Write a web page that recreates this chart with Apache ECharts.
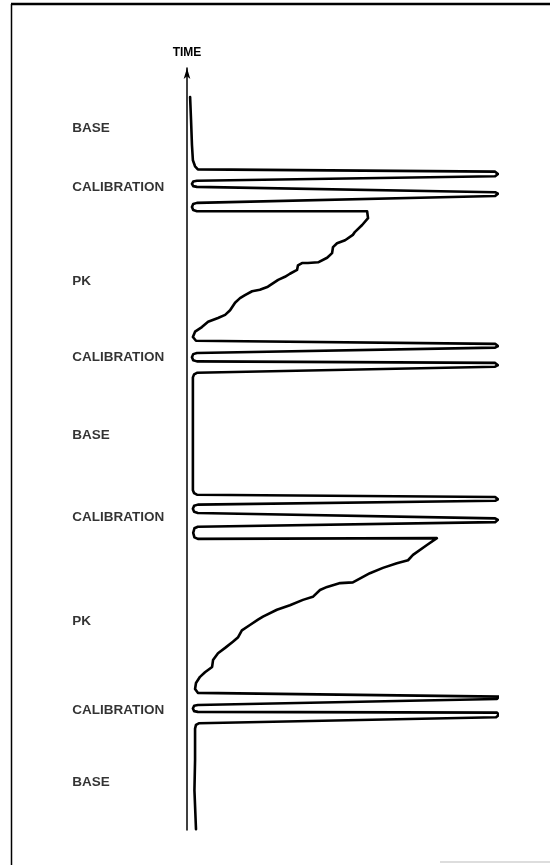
<!DOCTYPE html>
<html>
<head>
<meta charset="utf-8">
<script src="https://cdn.jsdelivr.net/npm/echarts@6/dist/echarts.min.js"></script>
<style>
html,body{margin:0;padding:0;background:#fff;}
#chart{width:550px;height:865px;}
</style>
</head>
<body>
<div id="chart"></div>
<script>
// Recorder trace, earliest first.
// Each point: [time (arbitrary units, bottom = 0), pen deflection (% of calibration full scale)]
const base1 = [[0.1, 2.9], [5.2, 2.4], [9.2, 2.6], [13.3, 2.6], [13.8, 2.9]];
const calibration1 = [
  [14.0, 3.8], [14.8, 99.7], [15.1, 100.6], [15.4, 100], [15.5, 3.5], [15.6, 2.3], [15.95, 1.9],
  [16.3, 2.3], [16.4, 3.5], [17.2, 100], [17.5, 100.6], [17.7, 100], [18.0, 3.5]
];
const pk1 = [
  [18.5, 2.6], [19.3, 2.9], [20.1, 4.2], [20.7, 5.8], [21.4, 8.1], [22.3, 8.4], [23.2, 10.0],
  [23.9, 12.3], [24.7, 14.8], [25.3, 16.5], [26.2, 17.7], [26.9, 20.3], [27.6, 22.9], [28.0, 24.5],
  [28.9, 29.0], [29.5, 33.2], [30.2, 37.4], [30.6, 40.6], [31.5, 42.9], [31.9, 45.2], [32.4, 49.4],
  [32.5, 53.5], [33.7, 59.0], [34.4, 63.2], [35.0, 67.7], [35.4, 71.3], [36.1, 72.9], [37.4, 77.4],
  [38.3, 80.6]
];
const calibration2 = [
  [38.2, 3.5], [38.4, 2.4], [39.0, 2.0], [39.6, 2.4], [39.8, 3.5], [40.4, 99.4], [40.7, 100.3],
  [40.9, 99.4], [41.6, 3.5], [41.75, 2.3], [42.15, 1.9], [42.55, 2.3], [42.7, 3.5], [43.2, 99.4],
  [43.4, 100.3], [43.7, 99.4], [44.0, 3.2], [44.2, 2.3]
];
const base2 = [[44.6, 1.9], [52.5, 1.9], [59.4, 1.9], [59.8, 2.3]];
const calibration3 = [
  [60.0, 3.2], [60.8, 99.4], [61.0, 100.3], [61.3, 99.4], [61.5, 3.2], [61.65, 2.0], [62.05, 1.6],
  [62.45, 2.0], [62.6, 3.2], [63.3, 99.4], [63.5, 100.3], [63.8, 99.4], [64.2, 2.9]
];
const pk2 = [
  [64.7, 1.9], [65.4, 2.6], [66.0, 4.8], [66.7, 6.8], [67.2, 10.0], [67.6, 12.3], [68.2, 13.9],
  [69.2, 15.5], [69.8, 17.1], [70.2, 18.7], [70.7, 21.0], [70.9, 23.5], [71.3, 26.1], [72.2, 29.4],
  [72.6, 31.6], [73.0, 33.2], [73.5, 35.5], [74.1, 35.8], [74.4, 37.1], [74.4, 39.0], [74.5, 42.3],
  [75.1, 45.2], [75.7, 46.8], [76.5, 47.1], [77.0, 48.4], [77.4, 51.0], [78.1, 53.5], [78.5, 54.2],
  [79.4, 56.5], [80.3, 58.4], [81.2, 58.1]
];
const calibration4 = [
  [81.2, 3.2], [81.35, 2.0], [81.75, 1.6], [82.15, 2.0], [82.3, 3.2], [83.2, 99.4], [83.5, 100.3],
  [83.7, 99.4], [84.4, 3.2], [84.5, 2.0], [84.8, 1.6], [85.1, 2.0], [85.2, 3.2], [85.8, 99.4],
  [86.1, 100.3], [86.4, 99.4], [86.7, 3.5]
];
const base3 = [[87.1, 2.6], [87.9, 1.9], [89.9, 1.6], [93.2, 1.3], [96.2, 1.0]];

// Phase labels and the time at which each is written
const phaseNames = ['BASE', 'CALIBRATION', 'PK', 'CALIBRATION', 'BASE', 'CALIBRATION', 'PK', 'CALIBRATION', 'BASE'];
const phaseTimes = [92.1, 84.3, 72.0, 62.1, 51.8, 41.1, 27.4, 15.7, 6.3];
const axisName = 'TIME';

const trace = [].concat(base1, calibration1, pk1, calibration2, base2, calibration3, pk2, calibration4, base3);

const chart = echarts.init(document.getElementById('chart'), null, {renderer: 'canvas'});
const LABEL_X = -37;
const FONT = 'Liberation Sans, Arial, sans-serif';

chart.setOption({
  animation: false,
  backgroundColor: '#ffffff',
  grid: {left: 187, right: 53, top: 68, bottom: 35},
  xAxis: {type: 'value', min: 0, max: 100, show: false},
  yAxis: {
    type: 'value', min: 0, max: 100,
    name: axisName,
    nameLocation: 'end',
    nameGap: 9,
    nameTextStyle: {color: '#000', fontFamily: FONT, fontWeight: 'bold', fontSize: 12, align: 'center'},
    axisLine: {show: true, lineStyle: {color: '#000', width: 1.5}, symbol: ['none', 'arrow'], symbolSize: [5, 11]},
    axisTick: {show: false},
    axisLabel: {show: false},
    splitLine: {show: false}
  },
  series: [
    {
      type: 'line',
      clip: false,
      symbol: 'none',
      smooth: false,
      lineStyle: {color: '#000', width: 2.6, join: 'round', cap: 'round'},
      data: trace.map(p => [p[1], p[0]])
    },
    {
      type: 'scatter',
      clip: false,
      symbolSize: 0,
      silent: true,
      data: phaseTimes.map((t, i) => ({name: phaseNames[i], value: [LABEL_X, t]})),
      label: {
        show: true,
        position: 'right',
        distance: 0,
        formatter: p => p.name,
        color: '#000',
        fontFamily: FONT,
        fontWeight: 'bold',
        fontSize: 13.5
      }
    }
  ],
  graphic: [
    {type: 'line', shape: {x1: 11.5, y1: 4, x2: 11.5, y2: 865}, style: {stroke: '#000', lineWidth: 1.5}},
    {type: 'line', shape: {x1: 11, y1: 4, x2: 550, y2: 4}, style: {stroke: '#000', lineWidth: 2.5}},
    {type: 'line', shape: {x1: 440, y1: 862, x2: 550, y2: 862}, style: {stroke: '#bbb', lineWidth: 1}}
  ]
});
</script>
</body>
</html>
